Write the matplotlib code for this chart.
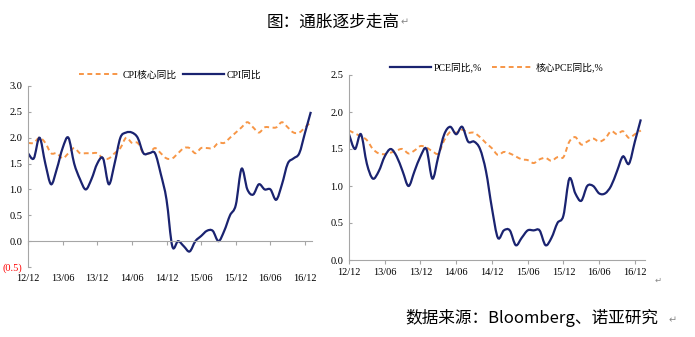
import matplotlib
matplotlib.use('Agg')
import matplotlib.pyplot as plt
from matplotlib.path import Path
from matplotlib.patches import PathPatch
from matplotlib.lines import Line2D
import numpy as np

# 月份：2012/12 - 2017/01
months = ['12/12', '13/01', '13/02', '13/03', '13/04', '13/05', '13/06', '13/07', '13/08', '13/09',
          '13/10', '13/11', '13/12', '14/01', '14/02', '14/03', '14/04', '14/05', '14/06', '14/07',
          '14/08', '14/09', '14/10', '14/11', '14/12', '15/01', '15/02', '15/03', '15/04', '15/05',
          '15/06', '15/07', '15/08', '15/09', '15/10', '15/11', '15/12', '16/01', '16/02', '16/03',
          '16/04', '16/05', '16/06', '16/07', '16/08', '16/09', '16/10', '16/11', '16/12', '17/01']
tick_labels = ['12/12', '13/06', '13/12', '14/06', '14/12', '15/06', '15/12', '16/06', '16/12']

# 左图 CPI
cpi = [1.7, 1.6, 2.0, 1.5, 1.1, 1.4, 1.8, 2.0, 1.5, 1.2,
       1.0, 1.2, 1.5, 1.6, 1.1, 1.5, 2.0, 2.1, 2.1, 2.0,
       1.7, 1.7, 1.7, 1.3, 0.8, -0.1, 0.0, -0.1, -0.2, 0.0,
       0.1, 0.2, 0.2, 0.0, 0.2, 0.5, 0.7, 1.4, 1.0, 0.9,
       1.1, 1.0, 1.0, 0.8, 1.1, 1.5, 1.6, 1.7, 2.1, 2.5]
core_cpi = [1.9, 1.9, 2.0, 1.9, 1.7, 1.7, 1.6, 1.7, 1.8, 1.7,
            1.7, 1.7, 1.7, 1.6, 1.6, 1.7, 1.8, 2.0, 1.9, 1.9,
            1.7, 1.7, 1.8, 1.7, 1.6, 1.6, 1.7, 1.8, 1.8, 1.7,
            1.8, 1.8, 1.8, 1.9, 1.9, 2.0, 2.1, 2.2, 2.3, 2.2,
            2.1, 2.2, 2.2, 2.2, 2.3, 2.2, 2.1, 2.1, 2.2, 2.3]
cpi_yticks = [-0.5, 0.0, 0.5, 1.0, 1.5, 2.0, 2.5, 3.0]
cpi_ylabels = ['(0.5)', '0.0', '0.5', '1.0', '1.5', '2.0', '2.5', '3.0']

# 右图 PCE
pce = [1.7, 1.5, 1.7, 1.3, 1.1, 1.2, 1.4, 1.5, 1.4, 1.2,
       1.0, 1.2, 1.4, 1.5, 1.1, 1.4, 1.7, 1.8, 1.7, 1.8,
       1.6, 1.6, 1.5, 1.2, 0.7, 0.3, 0.4, 0.4, 0.2, 0.3,
       0.4, 0.4, 0.4, 0.2, 0.3, 0.5, 0.6, 1.1, 0.9, 0.8,
       1.0, 1.0, 0.9, 0.9, 1.0, 1.2, 1.4, 1.3, 1.6, 1.9]
core_pce = [1.75, 1.71, 1.67, 1.62, 1.50, 1.44, 1.43, 1.45, 1.48, 1.50,
            1.44, 1.48, 1.54, 1.52, 1.47, 1.44, 1.62, 1.73, 1.72, 1.76,
            1.72, 1.72, 1.66, 1.58, 1.51, 1.42, 1.46, 1.44, 1.40, 1.36,
            1.35, 1.31, 1.36, 1.38, 1.34, 1.39, 1.39, 1.60, 1.66, 1.56,
            1.60, 1.64, 1.60, 1.64, 1.74, 1.70, 1.74, 1.65, 1.70, 1.75]
pce_yticks = [0.0, 0.5, 1.0, 1.5, 2.0, 2.5]

navy = '#1a2370'
orange = '#f79646'
grey = '#a6a6a6'
serif_cjk = ['Liberation Serif', 'Noto Sans CJK SC']
cjk = ['Noto Sans CJK SC', 'DejaVu Sans']


def smooth_path(y):
    # Excel 风格平滑线：三次贝塞尔
    x = np.arange(len(y), dtype=float)
    p = np.column_stack([x, np.asarray(y, dtype=float)])
    ext = np.vstack([p[0], p, p[-1]])
    verts = [p[0]]
    codes = [Path.MOVETO]
    for i in range(len(p) - 1):
        c1 = ext[i + 1] + (ext[i + 2] - ext[i]) / 6
        c2 = ext[i + 2] - (ext[i + 3] - ext[i + 1]) / 6
        verts += [c1, c2, p[i + 1]]
        codes += [Path.CURVE4] * 3
    return Path(verts, codes)


def draw(ax, y, color, lw, dashed=False):
    patch = PathPatch(smooth_path(y), fill=False, edgecolor=color, lw=lw,
                      linestyle=(0, (2.5, 1.8)) if dashed else '-', capstyle='butt')
    ax.add_patch(patch)


fig = plt.figure(figsize=(6.95, 3.37), dpi=100)

tick_pos = [months.index(t) for t in tick_labels]

# 左图
ax1 = fig.add_axes([28 / 695, 70 / 337, 284 / 695, 181 / 337])
draw(ax1, core_cpi, orange, 1.4, dashed=True)
draw(ax1, cpi, navy, 1.6)
ax1.set_xlim(0, 49.2)
ax1.set_ylim(-0.5, 3.0)
for s in ['top', 'right']:
    ax1.spines[s].set_visible(False)
ax1.spines['left'].set_color(grey)
ax1.spines['bottom'].set_color(grey)
ax1.spines['bottom'].set_position(('data', 0))
ax1.set_xticks(tick_pos)
ax1.tick_params(axis='x', direction='out', length=3, color=grey, labelbottom=False)
ax1.set_yticks(cpi_yticks)
ax1.set_yticklabels(cpi_ylabels, family=serif_cjk, fontsize=7.5)
ax1.get_yticklabels()[0].set_color('red')
ax1.tick_params(axis='y', direction='in', length=2, color=grey, pad=4)
sec1 = ax1.secondary_xaxis('bottom')
sec1.set_xticks(tick_pos)
sec1.set_xticklabels(tick_labels, family=serif_cjk, fontsize=7.5)
sec1.tick_params(length=0, pad=5)
sec1.spines['bottom'].set_visible(False)
h1 = [Line2D([], [], color=orange, lw=1.4, linestyle=(0, (2.5, 1.8))),
      Line2D([], [], color=navy, lw=1.6)]
ax1.legend(h1, ['CPI核心同比', 'CPI同比'], loc='center', bbox_to_anchor=(0.5, 1.06), ncol=2,
           frameon=False, prop={'family': serif_cjk, 'size': 7}, handlelength=4.2,
           handletextpad=0.3, columnspacing=0.6, borderpad=0)

# 右图
ax2 = fig.add_axes([349 / 695, 77 / 337, 296 / 695, 185 / 337])
draw(ax2, core_pce, orange, 1.4, dashed=True)
draw(ax2, pce, navy, 1.6)
ax2.set_xlim(0, 49.7)
ax2.set_ylim(0, 2.5)
for s in ['top', 'right']:
    ax2.spines[s].set_visible(False)
ax2.spines['left'].set_color(grey)
ax2.spines['bottom'].set_color(grey)
ax2.set_xticks(tick_pos)
ax2.set_xticklabels(tick_labels, family=serif_cjk, fontsize=7.5)
ax2.tick_params(axis='x', direction='out', length=3, color=grey, pad=3)
ax2.set_yticks(pce_yticks)
ax2.set_yticklabels([f'{v:.1f}' for v in pce_yticks], family=serif_cjk, fontsize=7.5)
ax2.tick_params(axis='y', direction='in', length=2, color=grey, pad=4)
h2 = [Line2D([], [], color=navy, lw=1.6),
      Line2D([], [], color=orange, lw=1.4, linestyle=(0, (2.5, 1.8)))]
ax2.legend(h2, ['PCE同比,%', '核心PCE同比,%'], loc='center', bbox_to_anchor=(0.5, 1.04), ncol=2,
           frameon=False, prop={'family': serif_cjk, 'size': 7}, handlelength=4.2,
           handletextpad=0.3, columnspacing=1.0, borderpad=0)

# 标题与来源
fig.text(333 / 695, 1 - 22 / 337, '图：通胀逐步走高', family=cjk, fontsize=12,
         ha='center', va='center')
fig.text(405 / 695, 1 - 22 / 337, '↵', family=cjk, fontsize=7, color='#888888',
         ha='center', va='center')
fig.text(405 / 695, 1 - 318 / 337, '数据来源：Bloomberg、诺亚研究', family=cjk, fontsize=12,
         ha='left', va='center')
fig.text(673 / 695, 1 - 320 / 337, '↵', family=cjk, fontsize=7, color='#888888',
         ha='center', va='center')
fig.text(658 / 695, 1 - 280 / 337, '↵', family=cjk, fontsize=6, color='#888888',
         ha='center', va='center')

fig.savefig('out.png', dpi=100)
